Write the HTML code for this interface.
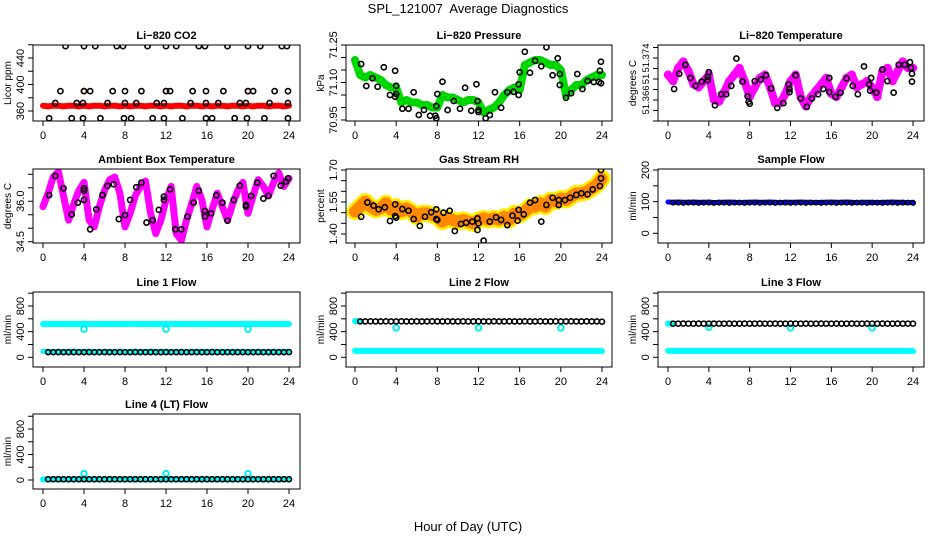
<!DOCTYPE html>
<html><head><meta charset="utf-8"><style>
html,body{margin:0;padding:0;background:#fff}
svg{display:block;font-family:"Liberation Sans",sans-serif}
</style></head><body>
<svg id="chart" width="936" height="540" viewBox="0 0 936 540" xmlns="http://www.w3.org/2000/svg">
<rect width="936" height="540" fill="#fff"/>
<text x="468" y="13" text-anchor="middle" font-size="13" xml:space="preserve">SPL_121007  Average Diagnostics</text>
<text x="468" y="531" text-anchor="middle" font-size="13">Hour of Day (UTC)</text>
</svg>
<script>
const H=[0,0.5,1,1.5,2,2.5,3,3.5,4,4.5,5,5.5,6,6.5,7,7.5,8,8.5,9,9.5,10,10.5,11,11.5,12,12.5,13,13.5,14,14.5,15,15.5,16,16.5,17,17.5,18,18.5,19,19.5,20,20.5,21,21.5,22,22.5,23,23.5,24];
const xTicks=[0,4,8,12,16,20,24];
// CO2
const co2Red=[368,367,368,368,367,368,368,367,368,367,368,368,367,368,368,367,368,367,368,368,367,368,368,367,368,367,368,368,367,368,368,367,368,367,368,368,367,368,368,367,368,367,368,368,367,368,368,367,368];
const co2RedOutH=[4,12,20];
const co2RedOutV=[390,390,390];
const co2BlackH=[2.2,4.0,5.1,7.2,7.8,10.2,12.0,13.0,15.2,15.8,18.0,20.0,21.2,23.3,23.8, 1.7,4.0,4.6,6.8,8.0,9.6,12.0,12.4,14.6,15.9,17.6,20.0,20.5,22.6,23.9, 1.2,3.3,3.9,6.3,8.0,9.1,11.1,11.8,14.4,15.9,17.1,19.2,19.8,22.1,23.9, 0.6,2.8,3.9,5.6,7.9,8.6,10.7,11.8,13.6,15.9,16.5,18.7,19.9,21.6,23.9];
const co2BlackV=[458,458,458,458,458,458,458,458,458,458,458,458,458,458,458, 390,390,390,390,390,390,390,390,390,390,390,390,390,390,390, 372,372,372,372,372,372,372,372,372,372,372,372,372,372,372, 349,349,349,349,349,349,349,349,349,349,349,349,349,349,349];
// Pressure
const presGreen=[71.19,71.13,71.12,71.13,71.12,71.11,71.09,71.08,71.08,71.02,71.03,71.02,71.02,71.01,71.01,71.00,71.00,71.05,71.04,71.04,71.03,71.02,71.03,71.03,71.02,70.98,70.99,71.00,71.02,71.05,71.07,71.08,71.07,71.17,71.18,71.19,71.19,71.18,71.17,71.17,71.15,71.05,71.07,71.09,71.09,71.11,71.12,71.13,71.13];
const presBlackH=[0.6,1.1,1.7,2.2,2.8,3.4,3.9,3.9,4.0,4.0,4.6,5.2,5.7,6.2,6.7,7.3,7.8,7.9,7.9,8.0,8.5,9.0,9.6,10.2,10.7,11.3,11.8,11.9,12.0,12.0,12.7,13.1,13.6,14.2,14.8,15.4,15.9,15.9,16.0,16.5,17.0,17.5,18.1,18.6,19.2,19.7,19.9,19.9,20.5,21.0,21.6,22.1,22.6,23.2,23.7,23.8,23.9,23.9];
const presBlackV=[71.174,71.086,71.117,71.083,71.161,71.05,71.147,71.043,71.087,71.054,70.995,70.995,71.061,70.97,70.99,70.967,70.967,70.957,71.006,71.054,71.103,70.99,71.026,70.995,71.079,70.987,71.093,71.026,70.99,70.982,70.957,70.97,71.061,70.999,71.061,71.063,71.05,71.093,71.141,71.223,71.139,71.187,71.165,71.241,71.129,71.197,71.09,71.134,71.039,71.057,71.134,71.074,71.106,71.102,71.102,71.147,71.183,71.097];
// Li-820 temperature
const tempMag=[51.3708,51.3696,51.3721,51.3733,51.3715,51.3690,51.3684,51.3696,51.3708,51.3660,51.3657,51.3675,51.3696,51.3708,51.3721,51.3696,51.3666,51.3684,51.3702,51.3708,51.3684,51.3654,51.3654,51.3672,51.3696,51.3708,51.3666,51.3648,51.3666,51.3678,51.3690,51.3702,51.3672,51.3666,51.3684,51.3702,51.3708,51.3684,51.3690,51.3696,51.3684,51.3666,51.3715,51.3721,51.3696,51.3715,51.3733,51.3721,51.3721];
const tempBlackH=[0.6,1.1,1.7,2.2,2.7,3.3,3.9,3.9,4.0,4.6,5.2,5.7,6.2,6.7,7.3,7.8,7.9,8.0,8.5,9.1,9.6,10.1,10.7,11.3,11.8,11.9,11.9,12.5,13.0,13.6,14.1,14.7,15.2,15.8,15.8,16.4,16.9,17.5,18.1,18.6,19.2,19.7,19.8,19.9,20.4,21.0,21.5,22.1,22.6,23.2,23.7,23.8,23.9,23.9];
const tempBlackV=[51.3681,51.3710,51.3727,51.3702,51.3687,51.3695,51.3704,51.3698,51.3713,51.3650,51.3671,51.3671,51.3687,51.3739,51.3695,51.3667,51.3657,51.3653,51.3696,51.3699,51.3707,51.3682,51.3645,51.3654,51.3690,51.3681,51.3675,51.3707,51.3663,51.3647,51.3663,51.3671,51.3681,51.3702,51.3675,51.3666,51.3674,51.3701,51.3687,51.3671,51.3724,51.3690,51.3678,51.3702,51.3674,51.3718,51.3696,51.3674,51.3727,51.3727,51.3732,51.3721,51.3710,51.3695];
// Ambient box temperature
const ambMag=[35.8,36.3,36.9,37.1,36.2,35.3,35.9,36.4,36.7,35.3,35.05,35.8,36.4,36.8,36.9,36.3,35.05,35.55,36.2,36.55,36.75,35.55,34.8,35.3,36.05,36.55,34.8,34.55,35.3,35.9,36.55,36.05,35.05,35.7,36.3,35.8,35.3,35.9,36.4,36.7,35.55,36.2,36.8,36.55,36.2,36.7,37.05,36.55,36.85];
const ambBlackH=[0.6,1.2,2.0,2.8,3.4,4.0,4.0,4.0,4.6,5.2,5.8,6.3,6.9,7.4,8.0,8.5,9.1,9.6,10.1,10.7,11.3,11.8,11.8,12.4,12.9,13.5,14.1,14.7,15.2,15.8,15.8,16.4,16.9,17.5,18.0,18.6,19.2,19.8,19.8,20.3,20.9,21.5,22.0,22.5,23.2,23.7,23.9];
const ambBlackV=[36.23,36.94,36.48,35.51,35.95,36.39,36.48,36.05,34.96,35.70,36.23,36.57,36.63,35.34,35.49,36.05,36.52,36.69,35.21,35.30,35.68,36.05,36.17,36.44,34.96,34.96,35.43,35.95,36.39,35.64,35.43,35.55,36.22,35.95,35.28,36.05,36.58,35.80,35.86,36.20,36.69,36.10,36.20,36.94,36.58,36.73,36.85];
// Gas stream RH
const rhBand=[1.505,1.528,1.552,1.528,1.513,1.52,1.544,1.513,1.528,1.505,1.52,1.505,1.481,1.497,1.497,1.489,1.481,1.458,1.473,1.466,1.458,1.466,1.458,1.45,1.466,1.473,1.466,1.473,1.466,1.481,1.466,1.497,1.489,1.505,1.528,1.528,1.544,1.528,1.559,1.552,1.567,1.559,1.575,1.591,1.591,1.598,1.614,1.63,1.661];
const rhBlackH=[0.6,1.2,1.8,2.3,2.9,3.4,3.9,3.9,4.0,4.6,5.2,5.7,6.3,6.8,7.4,7.9,7.9,8.0,8.6,9.2,9.7,10.3,10.8,11.4,11.9,11.9,12.0,12.5,13.1,13.7,14.2,14.8,15.3,15.8,15.9,16.4,17.0,17.5,18.1,18.6,19.2,19.8,19.8,20.4,20.9,21.5,22.0,22.6,23.1,23.8,23.9,23.9];
const rhBlackV=[1.481,1.548,1.533,1.516,1.525,1.461,1.539,1.484,1.477,1.517,1.509,1.470,1.438,1.481,1.502,1.470,1.516,1.466,1.500,1.509,1.414,1.447,1.453,1.458,1.419,1.473,1.45,1.369,1.458,1.478,1.466,1.442,1.486,1.463,1.513,1.492,1.547,1.559,1.458,1.536,1.570,1.536,1.559,1.559,1.570,1.583,1.591,1.586,1.609,1.625,1.661,1.70];
// Sample flow
const sampBlue=[99,98,99,98,98,99,98,98,99,97,98,98,99,98,97,98,98,99,98,98,99,98,97,98,98,98,99,98,98,97,98,98,99,98,98,99,98,97,98,98,98,97,98,98,99,98,98,97,98];
const sampBlack=[97,97,96,97,97,96,97,97,96,97,97,96,97,97,96,97,97,96,97,97,96,97,97,96,97,97,96,97,97,96,97,97,96,97,97,96,97,97,96,97,97,96,97,97,96,97,97,96];
// Line flows
const l1CyanHigh=[520,521,520,519,520,521,520,520,521,520,519,520,520,521,520,520,520,521,520,519,520,520,521,520,520,520,521,520,519,520,520,521,520,520,520,521,520,519,520,520,521,520,520,520,521,520,519,520,520];
const l1CyanLow=[92,91,92,92,91,92,92,91,92,92,91,92,92,91,92,92,91,92,92,91,92,92,91,92,92,91,92,92,91,92,92,91,92,92,91,92,92,91,92,92,91,92,92,91,92,92,91,92,92];
const l1Black=[80,80,81,80,80,81,80,80,81,80,80,81,80,80,81,80,80,81,80,80,81,80,80,81,80,80,81,80,80,81,80,80,81,80,80,81,80,80,81,80,80,81,80,80,81,80,80,81];
const outH=[4,12,20];
const l1Out=[440,440,440];
const l2CyanHigh=[565,565];
const l2Black=[560,560,561,560,560,561,560,560,561,560,560,561,560,560,561,560,560,561,560,560,561,560,560,561,560,560,561,560,560,561,560,560,561,560,560,561,560,560,561,560,560,561,560,560,561,560,560,556];
const l2CyanLow=[100,101,100,100,101,100,100,101,100,100,101,100,100,101,100,100,101,100,100,101,100,100,101,100,100,101,100,100,101,100,100,101,100,100,101,100,100,101,100,100,101,100,100,101,100,100,101,100,96];
const l2Out=[460,460,460];
const l3CyanHigh=[525,525];
const l3Black=[525,525,526,525,525,526,525,525,526,525,525,526,525,525,526,525,525,526,525,525,526,525,525,526,525,525,526,525,525,526,525,525,526,525,525,526,525,525,526,525,525,526,525,525,526,525,525,525];
const l3CyanLow=[100,101,100,100,101,100,100,101,100,100,101,100,100,101,100,100,101,100,100,101,100,100,101,100,100,101,100,100,101,100,100,101,100,100,101,100,100,101,100,100,101,100,100,101,100,100,101,100,96];
const l3Out=[470,460,460];
const l4Cyan=[10,10,10,10,10,10,10,10,10,10,10,10,10,10,10,10,10,10,10,10,10,10,10,10,10,10,10,10,10,10,10,10,10,10,10,10,10,10,10,10,10,10,10,10,10,10,10,10,10];
const l4Black=[12,12,12,12,12,12,12,12,12,12,12,12,12,12,12,12,12,12,12,12,12,12,12,12,12,12,12,12,12,12,12,12,12,12,12,12,12,12,12,12,12,12,12,12,12,12,12,12];
const l4Out=[100,100,100];
const flowTicks=[0,200,400,600,800,1000];
const flowLabels=[0,400,800];

const svg=document.getElementById('chart');
const NS='http://www.w3.org/2000/svg';
function mk(tag,attrs,parent){const e=document.createElementNS(NS,tag);for(const k in attrs)e.setAttribute(k,attrs[k]);(parent||svg).appendChild(e);return e;}
const COLS=[{bl:33,br:300,x0:43,x24:289},{bl:346,br:612,x0:355,x24:602},{bl:658,br:924,x0:668,x24:913}];
const ROWS=[{bt:45,bb:121},{bt:169,bb:243},{bt:292,bb:367},{bt:414,bb:489}];

function panel(c,r,o){
  const C=COLS[c],R=ROWS[r];
  const g=mk('g',{});
  
  
  const xs=h=>C.x0+h*(C.x24-C.x0)/24;
  const ys=v=>o.p1+(v-o.v1)*(o.p2-o.p1)/(o.v2-o.v1);
  const t=mk('text',{x:(C.bl+C.br)/2,y:R.bt-6,'text-anchor':'middle','font-size':11,'font-weight':'bold'},g);
  t.textContent=o.title;
  
  
  const clip='clip'+c+r;
  const cp=mk('clipPath',{id:clip},g);mk('rect',{x:C.bl,y:R.bt,width:C.br-C.bl,height:R.bb-R.bt},cp);
  const pg=mk('g',{'clip-path':'url(#'+clip+')'},g);
  o.draw(pg,xs,ys);
  const box=mk('rect',{x:C.bl,y:R.bt,width:C.br-C.bl,height:R.bb-R.bt,fill:'none',stroke:'#000','stroke-width':1},g);
  
  
  xTicks.forEach(h=>{
    mk('line',{x1:xs(h),x2:xs(h),y1:R.bb,y2:R.bb+5,stroke:'#000'},g);
    const l=mk('text',{x:xs(h),y:R.bb+18,'text-anchor':'middle','font-size':11},g);
    l.textContent=h;
    
    
  });
  o.yt.forEach(v=>{const y=ys(v);if(y<R.bt-1||y>R.bb+1)return;mk('line',{x1:C.bl-5,x2:C.bl,y1:y,y2:y,stroke:'#000'},g);});
  o.yl.forEach((v,i)=>{
    const y=ys(v);const lx=C.bl-9;
    const l=mk('text',{x:lx,y:y,'text-anchor':'middle','font-size':o.lfs||11,transform:'rotate(-90 '+lx+' '+y+')'},g);
    l.textContent=o.ylt?o.ylt[i]:v;
    
    
  });
  const yx=C.bl-22,yy=(R.bt+R.bb)/2;
  const yt=mk('text',{x:yx,y:yy,'text-anchor':'middle','font-size':10,transform:'rotate(-90 '+yx+' '+yy+')'},g);
  yt.textContent=o.ylab;
  
  
}
function band(g,xs,ys,hs,vs,col,w,name){
  const pts=vs.map((v,i)=>xs(hs[i])+','+ys(v)).join(' ');
  const p=mk('polyline',{points:pts,fill:'none',stroke:col,'stroke-width':w,'stroke-linejoin':'round','stroke-linecap':'round'},g);
  
  
  return p;
}
function dots(g,xs,ys,hs,vs,col,name,r,sw){
  vs.forEach((v,i)=>{
    if(hs[i]===undefined)return;
    const e=mk('circle',{cx:xs(hs[i]),cy:ys(v),r:r||2.6,fill:'none',stroke:col,'stroke-width':sw||1.6},g);
    
    
  });
}
const H1=H.slice(1);

panel(0,0,{name:'co2-panel',title:'Li\u2212820 CO2',ylab:'Licor ppm',v1:360,p1:111,v2:440,p2:58,yt:[340,360,380,400,420,440,460],yl:[360,400,440],
 draw:(g,xs,ys)=>{band(g,xs,ys,H,co2Red,'#ff0000',6,'co2-series');dots(g,xs,ys,co2RedOutH,co2RedOutV,'#ff0000','co2-point');dots(g,xs,ys,co2BlackH,co2BlackV,'#000','co2-avg-point');}});
panel(1,0,{name:'pressure-panel',title:'Li\u2212820 Pressure',ylab:'kPa',v1:70.95,p1:120,v2:71.25,p2:45,yt:[70.95,71.00,71.05,71.10,71.15,71.20,71.25],yl:[70.95,71.10,71.25],ylt:['70.95','71.10','71.25'],
 draw:(g,xs,ys)=>{band(g,xs,ys,H,presGreen,'#00dd00',8,'pressure-series');dots(g,xs,ys,H,presGreen,'#00cc00','pressure-point',3,1.5);dots(g,xs,ys,presBlackH,presBlackV,'#000','pressure-avg-point');}});
panel(2,0,{name:'temperature-panel',title:'Li\u2212820 Temperature',ylab:'degrees C',v1:51.366,p1:100,v2:51.374,p2:58,lfs:9.5,yt:[51.362,51.364,51.366,51.368,51.370,51.372,51.374,51.376],yl:[51.366,51.370,51.374],ylt:['51.366','51','51.374'],
 draw:(g,xs,ys)=>{band(g,xs,ys,H,tempMag,'#ff00ff',8,'temperature-series');dots(g,xs,ys,H,tempMag,'#ff00ff','temperature-point',3.5,1.5);dots(g,xs,ys,tempBlackH,tempBlackV,'#000','temperature-avg-point');}});
panel(0,1,{name:'ambient-panel',title:'Ambient Box Temperature',ylab:'degrees C',v1:34.5,p1:241.7,v2:37.0,p2:174.3,yt:[34.5,35.0,35.5,36.0,36.5,37.0],yl:[34.5,36.0],ylt:['34.5','36.0'],
 draw:(g,xs,ys)=>{band(g,xs,ys,H,ambMag,'#ff00ff',7,'ambient-series');dots(g,xs,ys,ambBlackH,ambBlackV,'#000','ambient-avg-point');}});
panel(1,1,{name:'rh-panel',title:'Gas Stream RH',ylab:'percent',v1:1.40,p1:234,v2:1.70,p2:170,yt:[1.40,1.45,1.50,1.55,1.60,1.65,1.70],yl:[1.40,1.55,1.70],ylt:['1.40','1.55','1.70'],
 draw:(g,xs,ys)=>{band(g,xs,ys,H,rhBand,'#ffee00',17,'rh-band');const p=band(g,xs,ys,H,rhBand,'#ff8800',12,'rh-series');p.setAttribute('stroke-dasharray','2 1.5');dots(g,xs,ys,rhBlackH,rhBlackV,'#000','rh-avg-point');}});
panel(2,1,{name:'sample-flow-panel',title:'Sample Flow',ylab:'ml/min',v1:0,p1:233.3,v2:200,p2:170,yt:[0,50,100,150,200],yl:[0,100,200],
 draw:(g,xs,ys)=>{band(g,xs,ys,H,sampBlue,'#0000ff',5,'sample-flow-series');dots(g,xs,ys,H1,sampBlack,'#000','sample-flow-avg-point',2.3,1.4);}});
function flowPanel(c,r,name,title,draw){const p1=r===2?357.3:480,p2=r===2?306:429;panel(c,r,{name:name,title:title,ylab:'ml/min',v1:0,p1:p1,v2:800,p2:p2,yt:flowTicks,yl:flowLabels,draw:draw});}
flowPanel(0,2,'line1-flow-panel','Line 1 Flow',(g,xs,ys)=>{band(g,xs,ys,H,l1CyanHigh,'#00ffff',6,'line1-high-series');band(g,xs,ys,H,l1CyanLow,'#00ffff',5,'line1-low-series');dots(g,xs,ys,outH,l1Out,'#00eeee','line1-outlier',2.8,2);dots(g,xs,ys,H1,l1Black,'#000','line1-avg-point',2.5,1.6);});
flowPanel(1,2,'line2-flow-panel','Line 2 Flow',(g,xs,ys)=>{band(g,xs,ys,[0,0.5],l2CyanHigh,'#00ffff',6,'line2-high-series');band(g,xs,ys,H,l2CyanLow,'#00ffff',6,'line2-low-series');dots(g,xs,ys,outH,l2Out,'#00eeee','line2-outlier',2.8,2);dots(g,xs,ys,H1,l2Black,'#000','line2-avg-point',2.5,1.6);});
flowPanel(2,2,'line3-flow-panel','Line 3 Flow',(g,xs,ys)=>{band(g,xs,ys,[0,0.5],l3CyanHigh,'#00ffff',6,'line3-high-series');band(g,xs,ys,H,l3CyanLow,'#00ffff',6,'line3-low-series');dots(g,xs,ys,outH,l3Out,'#00eeee','line3-outlier',2.8,2);dots(g,xs,ys,H1,l3Black,'#000','line3-avg-point',2.5,1.6);});
flowPanel(0,3,'line4-flow-panel','Line 4 (LT) Flow',(g,xs,ys)=>{band(g,xs,ys,H,l4Cyan,'#00ffff',6,'line4-series');dots(g,xs,ys,outH,l4Out,'#00eeee','line4-outlier',2.8,2);dots(g,xs,ys,H1,l4Black,'#000','line4-avg-point',2.5,1.6);});
</script>
</body></html>
